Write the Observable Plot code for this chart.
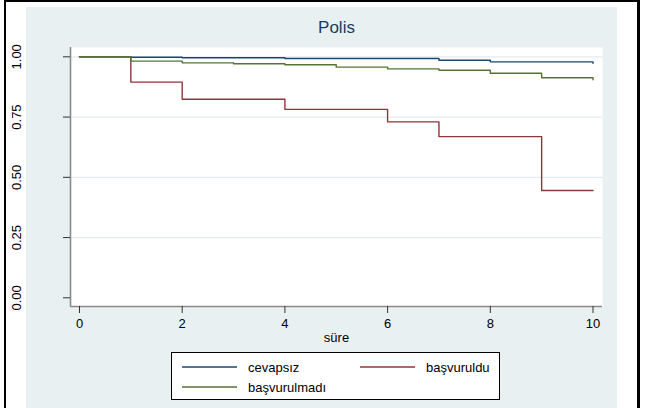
<!DOCTYPE html>
<html>
<head>
<meta charset="utf-8">
<script src="https://cdn.jsdelivr.net/npm/d3@7"></script>
<script src="https://cdn.jsdelivr.net/npm/@observablehq/plot@0.6"></script>
<style>
  body { margin: 0; background: #fff; font-family: "Liberation Sans", Arial, sans-serif; }
  #wrap { position: relative; width: 645px; height: 408px; overflow: hidden; background: #fff; }
  .blk { position: absolute; background: #000; }
  #bg { position: absolute; left: 26px; top: 7px; width: 591px; height: 401px; background: #e9f0f2; }
  #chart { position: absolute; left: 0; top: 0; }
</style>
</head>
<body>
<div id="wrap">
  <div class="blk" style="left:4px;top:0;width:2px;height:408px"></div>
  <div class="blk" style="left:4px;top:0;width:636px;height:2px"></div>
  <div class="blk" style="left:637px;top:0;width:3px;height:408px"></div>
  <div id="bg"></div>
  <div id="chart"></div>
</div>
<script>
// ---- data ----
const seriesNames = ["cevapsız", "başvuruldu", "başvurulmadı"];
const seriesColors = ["#1a476f", "#90353b", "#55752f"];

const cevapsizTime = [0, 1, 2, 4, 7, 8, 10];
const cevapsizSurv = [1.000, 0.998, 0.996, 0.993, 0.986, 0.979, 0.973];

const basvurulduTime = [0, 1, 2, 4, 6, 7, 9, 10];
const basvurulduSurv = [1.000, 0.895, 0.824, 0.782, 0.730, 0.669, 0.445, 0.445];

const basvurulmadiTime = [0, 1, 2, 3, 4, 5, 6, 7, 8, 9, 10];
const basvurulmadiSurv = [1.000, 0.982, 0.975, 0.971, 0.967, 0.957, 0.950, 0.944, 0.932, 0.913, 0.905];

const xTicks = [0, 2, 4, 6, 8, 10];
const yTicks = [0, 0.25, 0.5, 0.75, 1];
const yTickLabels = ["0.00", "0.25", "0.50", "0.75", "1.00"];
const yGrid = [0.25, 0.5, 0.75, 1];
const titleText = "Polis";
const xLabel = "süre";

// ---- build table ----
const rows = [];
[[cevapsizTime, cevapsizSurv], [basvurulduTime, basvurulduSurv], [basvurulmadiTime, basvurulmadiSurv]]
  .forEach(([t, s], i) => t.forEach((tt, j) => rows.push({series: seriesNames[i], t: tt, s: s[j]})));

const font = "Liberation Sans, Arial, sans-serif";

const chart = Plot.plot({
  width: 645,
  height: 408,
  marginLeft: 70,
  marginRight: 43,
  marginTop: 47,
  marginBottom: 102,
  style: {background: "transparent", fontFamily: font, fontSize: "13px", color: "#000"},
  x: {domain: [-0.175, 10.185]},
  y: {domain: [-0.036, 1.0386]},
  color: {domain: seriesNames, range: seriesColors},
  marks: [
    Plot.frame({fill: "#fff", stroke: null}),
    Plot.ruleY(yGrid, {y: d => d, stroke: "#e4ecef", strokeWidth: 1.2}),
    Plot.line(rows, {x: "t", y: "s", z: "series", stroke: "series", curve: "step-after", strokeWidth: 1.4}),
    Plot.ruleX([-0.175], {stroke: "#8a8a8a", strokeWidth: 1.6}),
    Plot.ruleY([-0.036], {stroke: "#8a8a8a", strokeWidth: 1.6}),
    Plot.axisX({ticks: xTicks, tickSize: 7, tickFormat: () => "", label: null, stroke: "#333"}),
    Plot.axisY({ticks: yTicks, tickSize: 7, tickFormat: () => "", label: null, stroke: "#333"}),
    Plot.text(xTicks, {x: d => d, frameAnchor: "bottom", dy: 21, text: d => String(d), fontSize: 13, fill: "#000"}),
    Plot.text(yTicks, {y: d => d, frameAnchor: "left", dx: -54, rotate: -90, textAnchor: "middle", lineAnchor: "middle", text: (d, i) => yTickLabels[i], fontSize: 13, fill: "#000"}),
    Plot.text([xLabel], {frameAnchor: "bottom", dy: 35, text: d => d, fontSize: 13, fill: "#000"}),
    Plot.text([titleText], {frameAnchor: "top", dy: -27, text: d => d, fontSize: 17, fill: "#1a3a60"})
  ]
});
document.getElementById("chart").appendChild(chart);

// ---- legend ----
const svg = d3.select(chart);
const lg = svg.append("g").attr("font-family", font).attr("font-size", 13).attr("text-anchor", "start");
lg.append("rect").attr("x", 171.5).attr("y", 352.5).attr("width", 328).attr("height", 47)
  .attr("fill", "#fff").attr("stroke", "#000").attr("stroke-width", 1);
const items = [
  {name: seriesNames[0], color: seriesColors[0], x: 182, y: 367},
  {name: seriesNames[1], color: seriesColors[1], x: 360, y: 367},
  {name: seriesNames[2], color: seriesColors[2], x: 182, y: 387}
];
items.forEach(it => {
  lg.append("line").attr("x1", it.x).attr("x2", it.x + 55).attr("y1", it.y).attr("y2", it.y)
    .attr("stroke", it.color).attr("stroke-width", 1.3);
  lg.append("text").attr("x", it.x + 66).attr("y", it.y).attr("dy", "0.35em")
    .attr("text-anchor", "start").attr("fill", "#000").text(it.name);
});
</script>
</body>
</html>
